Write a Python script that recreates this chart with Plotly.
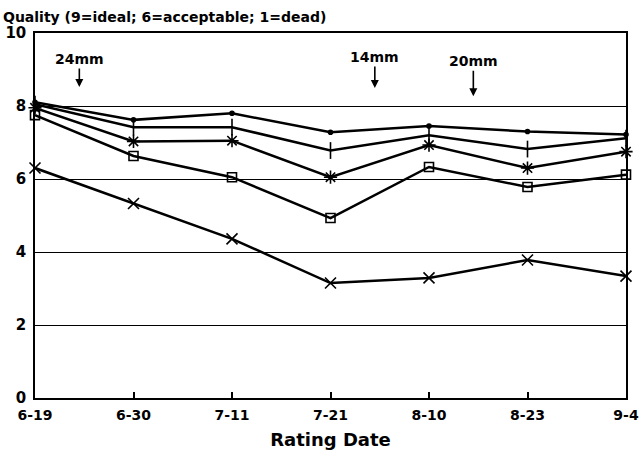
import plotly.graph_objects as go

dates = ["6-19", "6-30", "7-11", "7-21", "8-10", "8-23", "9-4"]
series_a = [8.10, 7.62, 7.80, 7.28, 7.45, 7.30, 7.22]
series_b = [8.05, 7.42, 7.42, 6.78, 7.20, 6.82, 7.12]
series_c = [7.95, 7.03, 7.05, 6.05, 6.93, 6.30, 6.75]
series_d = [7.75, 6.63, 6.05, 4.93, 6.33, 5.78, 6.12]
series_e = [6.30, 5.33, 4.36, 3.15, 3.29, 3.78, 3.34]

markers = [("circle", 4), ("line-ns", 12), ("asterisk", 11), ("square-open", 9), ("x-thin", 11)]
all_series = [series_a, series_b, series_c, series_d, series_e]

FONT = "DejaVu Sans"

fig = go.Figure()
xpos = list(range(len(dates)))
for vals, (sym, sz) in zip(all_series, markers):
    fig.add_trace(go.Scatter(
        x=xpos, y=vals, mode="lines+markers",
        line=dict(color="black", width=2.5),
        marker=dict(symbol=sym, size=sz, color="black",
                    line=dict(color="black", width=1.6)),
        showlegend=False, cliponaxis=False,
    ))

# notes: (label, x position in category units, arrow tip value, pixel offset)
notes = [("24mm", 0.45, 8.52, -28), ("14mm", 3.45, 8.49, -31), ("20mm", 4.45, 8.27, -35)]
for label, xp, tip, off in notes:
    fig.add_annotation(
        x=xp, y=tip, text=label, showarrow=True, ax=0, ay=off,
        arrowhead=2, arrowsize=1, arrowwidth=1.6, arrowcolor="black",
        font=dict(family=FONT, size=14, color="black", weight="bold"),
    )

fig.add_annotation(
    xref="paper", yref="paper", x=-0.058, y=1.044, xanchor="left", yanchor="middle",
    text="Quality (9=ideal; 6=acceptable; 1=dead)", showarrow=False,
    font=dict(family=FONT, size=14, color="black", weight="bold"),
)

fig.update_layout(
    width=642, height=452,
    margin=dict(l=35, r=16, t=33, b=54, autoexpand=False),
    paper_bgcolor="white", plot_bgcolor="white",
    font=dict(family=FONT, color="black", weight="bold"),
    xaxis=dict(
        range=[0, 6], tickmode="array", tickvals=xpos, ticktext=dates,
        automargin=False,
        ticks="inside", ticklen=6, tickwidth=1.5, tickcolor="black",
        ticklabelstandoff=3,
        showgrid=False, zeroline=False,
        showline=True, linecolor="black", linewidth=1.5, mirror=True,
        tickfont=dict(family=FONT, size=14, color="black", weight="bold"),
        title=dict(text="Rating Date", standoff=12,
                   font=dict(family=FONT, size=18, color="black", weight="bold")),
    ),
    yaxis=dict(
        range=[0, 10], tickvals=[0, 2, 4, 6, 8, 10],
        automargin=False,
        showgrid=True, gridcolor="black", gridwidth=1.2,
        zeroline=False, ticks="", ticklabelstandoff=4,
        showline=True, linecolor="black", linewidth=1.5, mirror=True,
        tickfont=dict(family=FONT, size=15, color="black", weight="bold"),
    ),
)

fig.write_html("out.html", config={"displayModeBar": False},
               post_script="document.body.style.margin='0';")
